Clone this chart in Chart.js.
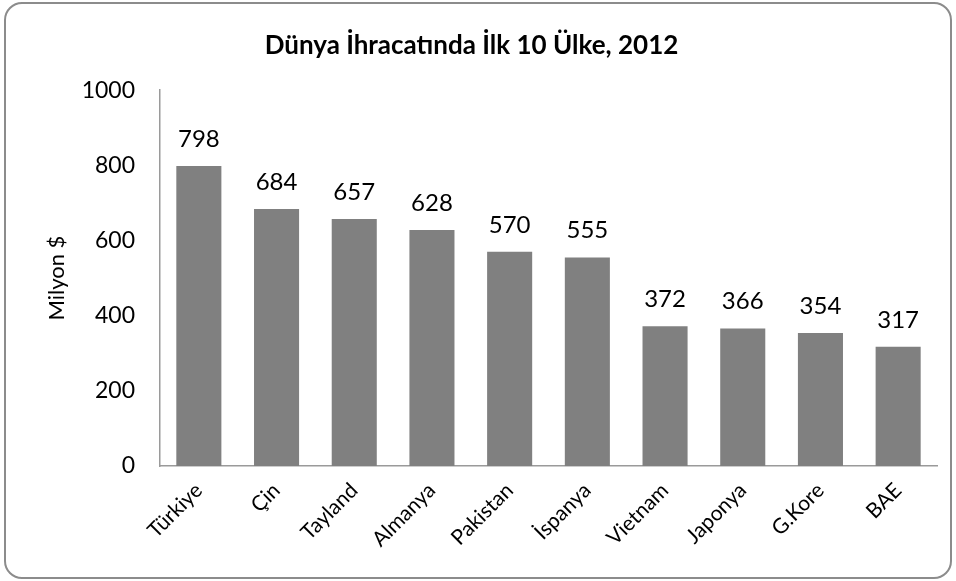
<!DOCTYPE html>
<html>
<head>
<meta charset="utf-8">
<script src="https://cdn.jsdelivr.net/npm/chart.js@4"></script>
<style>
  html, body { margin: 0; padding: 0; background: #fff; }
  .frame {
    position: absolute; left: 4px; top: 2px;
    width: 944px; height: 573px;
    border: 2px solid #8c8c8c; border-radius: 18px;
    overflow: hidden; background: #fff;
  }
  canvas { display: block; }
</style>
</head>
<body>
<div class="frame"><canvas id="chart" width="944" height="573"></canvas></div>
<script>
// DATA
const countries = ['Türkiye', 'Çin', 'Tayland', 'Almanya', 'Pakistan', 'İspanya', 'Vietnam', 'Japonya', 'G.Kore', 'BAE'];
const exportValues = [798, 684, 657, 628, 570, 555, 372, 366, 354, 317];
const yTicks = [0, 200, 400, 600, 800, 1000];

const FONT = "Lato, 'Open Sans', sans-serif";

// value labels above each bar
const barLabels = {
  id: 'barLabels',
  afterDatasetsDraw(chart) {
    const ctx = chart.ctx;
    const meta = chart.getDatasetMeta(0);
    ctx.save();
    ctx.font = '24px ' + FONT;
    ctx.fillStyle = '#000';
    ctx.textAlign = 'center';
    ctx.textBaseline = 'alphabetic';
    meta.data.forEach((bar, i) => {
      ctx.fillText(exportValues[i], bar.x, bar.y - 19);
    });
    ctx.restore();
  }
};

new Chart(document.getElementById('chart'), {
  type: 'bar',
  data: {
    labels: countries,
    datasets: [{
      data: exportValues,
      backgroundColor: '#808080',
      categoryPercentage: 1,
      barPercentage: 0.58
    }]
  },
  options: {
    responsive: false,
    animation: false,
    layout: { padding: { left: 0, right: 13, top: 0, bottom: 0 } },
    plugins: {
      legend: { display: false },
      tooltip: { enabled: false },
      title: {
        display: true,
        text: 'Dünya İhracatında İlk 10 Ülke, 2012',
        color: '#000',
        font: { family: FONT, size: 26, weight: 'bold' },
        padding: { top: 26, bottom: 29 }
      }
    },
    scales: {
      x: {
        grid: { display: false, drawTicks: false },
        border: { color: '#9a9a9a', width: 1.5 },
        afterFit(axis) { axis.height = 111; },
        ticks: {
          color: '#000',
          font: { family: FONT, size: 21 },
          minRotation: 45, maxRotation: 45,
          padding: 12
        }
      },
      y: {
        min: 0, max: 1000,
        afterBuildTicks(axis) { axis.ticks = yTicks.map(v => ({ value: v })); },
        afterFit(axis) { axis.width = 154; },
        grid: { display: false, drawTicks: false },
        border: { color: '#9a9a9a', width: 1.5 },
        title: {
          display: true,
          text: 'Milyon $',
          color: '#000',
          font: { family: FONT, size: 22 },
          padding: { top: 38, bottom: 0 }
        },
        ticks: {
          color: '#000',
          font: { family: FONT, size: 23 },
          padding: 25,
          callback: v => String(v)
        }
      }
    }
  },
  plugins: [barLabels]
});
</script>
</body>
</html>
